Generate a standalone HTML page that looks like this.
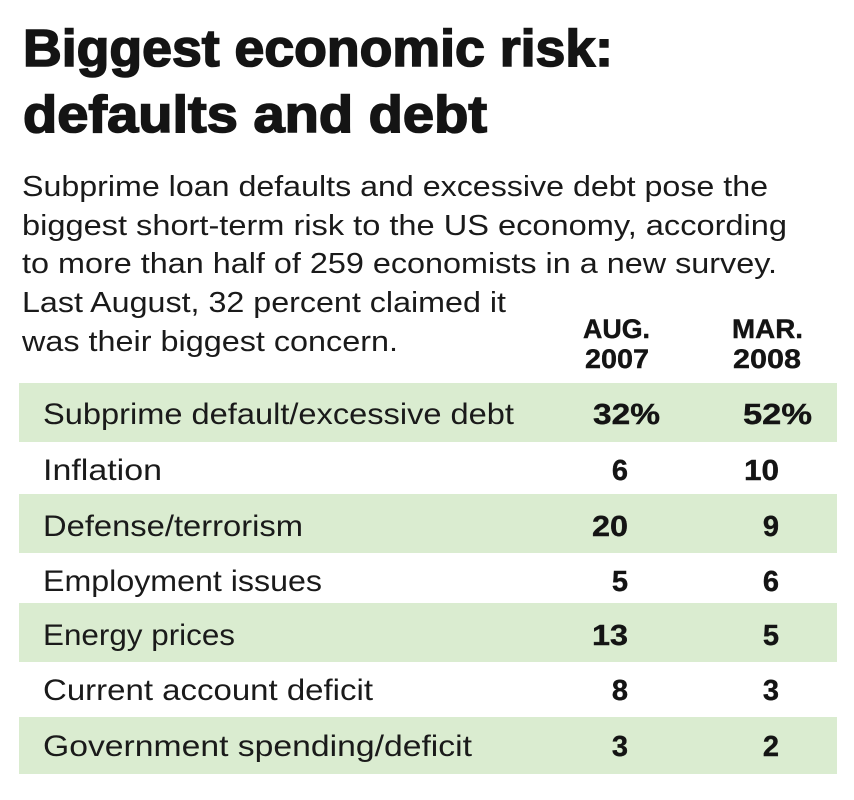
<!DOCTYPE html>
<html>
<head>
<meta charset="utf-8">
<style>
  html, body { margin: 0; padding: 0; background: #ffffff; }
  body { width: 854px; height: 800px; overflow: hidden; }
  svg { display: block; }
  .t { font-family: "Liberation Sans", sans-serif; font-weight: bold; fill: #141414; stroke: #141414; stroke-width: 1.6; }
  .p { font-family: "Liberation Sans", sans-serif; fill: #1a1a1a; }
  .b { font-family: "Liberation Sans", sans-serif; font-weight: bold; fill: #141414; stroke: #141414; stroke-width: 0.4; }
</style>
</head>
<body>
<svg width="854" height="800" viewBox="0 0 854 800" xmlns="http://www.w3.org/2000/svg">
  <rect x="0" y="0" width="854" height="800" fill="#ffffff"/>

  <!-- Title -->
  <text class="t" x="23" y="66" font-size="52" textLength="590" lengthAdjust="spacingAndGlyphs">Biggest economic risk:</text>
  <text class="t" x="23" y="132" font-size="52" textLength="464" lengthAdjust="spacingAndGlyphs">defaults and debt</text>

  <!-- Paragraph -->
  <text class="p" x="22" y="196" font-size="29" textLength="746" lengthAdjust="spacingAndGlyphs">Subprime loan defaults and excessive debt pose the</text>
  <text class="p" x="22" y="235" font-size="29" textLength="765" lengthAdjust="spacingAndGlyphs">biggest short-term risk to the US economy, according</text>
  <text class="p" x="22" y="273" font-size="29" textLength="755" lengthAdjust="spacingAndGlyphs">to more than half of 259 economists in a new survey.</text>
  <text class="p" x="22" y="312" font-size="29" textLength="484" lengthAdjust="spacingAndGlyphs">Last August, 32 percent claimed it</text>
  <text class="p" x="22" y="351" font-size="29" textLength="376" lengthAdjust="spacingAndGlyphs">was their biggest concern.</text>

  <!-- Column headers -->
  <text class="b" x="583" y="338" font-size="27" textLength="67" lengthAdjust="spacingAndGlyphs">AUG.</text>
  <text class="b" x="585" y="368" font-size="27" textLength="64" lengthAdjust="spacingAndGlyphs">2007</text>
  <text class="b" x="732" y="338" font-size="27" textLength="71" lengthAdjust="spacingAndGlyphs">MAR.</text>
  <text class="b" x="733" y="368" font-size="27" textLength="68" lengthAdjust="spacingAndGlyphs">2008</text>

  <!-- Green bands -->
  <rect x="19" y="383" width="818" height="59" fill="#daecd0"/>
  <rect x="19" y="494" width="818" height="59" fill="#daecd0"/>
  <rect x="19" y="603" width="818" height="59" fill="#daecd0"/>
  <rect x="19" y="717" width="818" height="57" fill="#daecd0"/>

  <!-- Labels -->
  <text class="p" x="43" y="424" font-size="30" textLength="471" lengthAdjust="spacingAndGlyphs">Subprime default/excessive debt</text>
  <text class="p" x="43" y="480" font-size="30" textLength="119" lengthAdjust="spacingAndGlyphs">Inflation</text>
  <text class="p" x="43" y="536" font-size="30" textLength="260" lengthAdjust="spacingAndGlyphs">Defense/terrorism</text>
  <text class="p" x="43" y="591" font-size="30" textLength="279" lengthAdjust="spacingAndGlyphs">Employment issues</text>
  <text class="p" x="43" y="645" font-size="30" textLength="192" lengthAdjust="spacingAndGlyphs">Energy prices</text>
  <text class="p" x="43" y="700" font-size="30" textLength="330" lengthAdjust="spacingAndGlyphs">Current account deficit</text>
  <text class="p" x="43" y="756" font-size="30" textLength="429" lengthAdjust="spacingAndGlyphs">Government spending/deficit</text>

  <!-- Values col 1 -->
  <text class="b" x="593" y="424" font-size="29" textLength="67" lengthAdjust="spacingAndGlyphs">32%</text>
  <text class="b" x="628" y="480" font-size="29" text-anchor="end">6</text>
  <text class="b" x="592" y="536" font-size="29" textLength="36" lengthAdjust="spacingAndGlyphs">20</text>
  <text class="b" x="628" y="591" font-size="29" text-anchor="end">5</text>
  <text class="b" x="592" y="645" font-size="29" textLength="36" lengthAdjust="spacingAndGlyphs">13</text>
  <text class="b" x="628" y="700" font-size="29" text-anchor="end">8</text>
  <text class="b" x="628" y="756" font-size="29" text-anchor="end">3</text>

  <!-- Values col 2 -->
  <text class="b" x="743" y="424" font-size="29" textLength="69" lengthAdjust="spacingAndGlyphs">52%</text>
  <text class="b" x="744" y="480" font-size="29" textLength="35" lengthAdjust="spacingAndGlyphs">10</text>
  <text class="b" x="779" y="536" font-size="29" text-anchor="end">9</text>
  <text class="b" x="779" y="591" font-size="29" text-anchor="end">6</text>
  <text class="b" x="779" y="645" font-size="29" text-anchor="end">5</text>
  <text class="b" x="779" y="700" font-size="29" text-anchor="end">3</text>
  <text class="b" x="779" y="756" font-size="29" text-anchor="end">2</text>
</svg>
</body>
</html>
